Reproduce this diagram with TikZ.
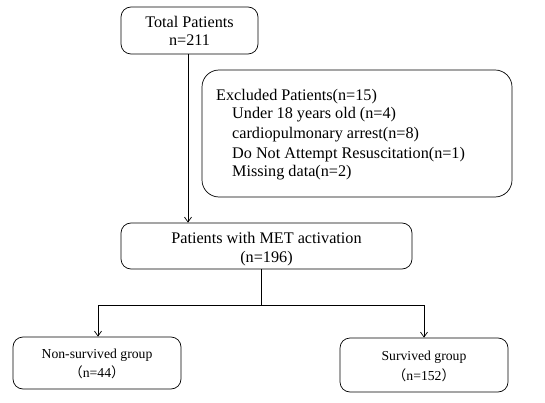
\documentclass[tikz,border=0pt]{standalone}
\usepackage{fontspec}
\setmainfont{Liberation Serif}
\newfontfamily\cjk{Noto Sans CJK SC}
\usetikzlibrary{arrows.meta}
\begin{document}
\begin{tikzpicture}[x=1pt,y=-1pt,
  box/.style={draw,rounded corners=10pt,line width=0.7pt,inner sep=0pt},
  conn/.style={line width=0.7pt},
  arr/.style={conn,-{Straight Barb[length=5pt,width=7pt]}},
  txt/.style={font=\fontsize{16.2}{19}\selectfont,inner sep=0pt,anchor=base},
  stxt/.style={font=\fontsize{13.7}{16}\selectfont,inner sep=0pt,anchor=base}]
\useasboundingbox (0,0) rectangle (545,403);
% boxes
\node[box,minimum width=137pt,minimum height=47pt] (total) at (189.5,30.5) {};
\node[txt] at (189.5,27.5) {Total Patients};
\node[txt] at (189.5,46) {n=211};
\node[box,rounded corners=17pt,minimum width=310pt,minimum height=127pt] (excl) at (357,133.5) {};
\node[txt,anchor=base west] at (216,100.5) {Excluded Patients(n=15)};
\node[txt,anchor=base west] at (232,119) {Under 18 years old (n=4)};
\node[txt,anchor=base west] at (232,138.5) {cardiopulmonary arrest(n=8)};
\node[txt,anchor=base west] at (232,158.5) {Do Not Attempt Resuscitation(n=1)};
\node[txt,anchor=base west] at (232,176.5) {Missing data(n=2)};
\node[box,minimum width=291pt,minimum height=46pt] (met) at (266.5,246) {};
\node[txt] at (266.5,243.5) {Patients with MET activation};
\node[txt] at (266.5,262) {(n=196)};
\node[box,minimum width=168pt,minimum height=52pt] (non) at (97,363) {};
\node[stxt] at (97,358) {Non-survived group};
\node[stxt] at (97,377.5) {{\cjk （}n=44{\cjk ）}};
\node[box,minimum width=168pt,minimum height=54pt] (surv) at (424,365) {};
\node[stxt] at (424,360) {Survived group};
\node[stxt] at (424,380.5) {{\cjk （}n=152{\cjk ）}};
% connectors
\draw[arr] (total.south -| 188,0) -- (met.north -| 188,0);
\coordinate (split) at (261,305);
\draw[conn] (met.south -| split) -- (split);
\draw[arr] (split) -| (non.north -| 98,0);
\draw[arr] (split) -| (surv.north -| 424,0);
\end{tikzpicture}
\end{document}
